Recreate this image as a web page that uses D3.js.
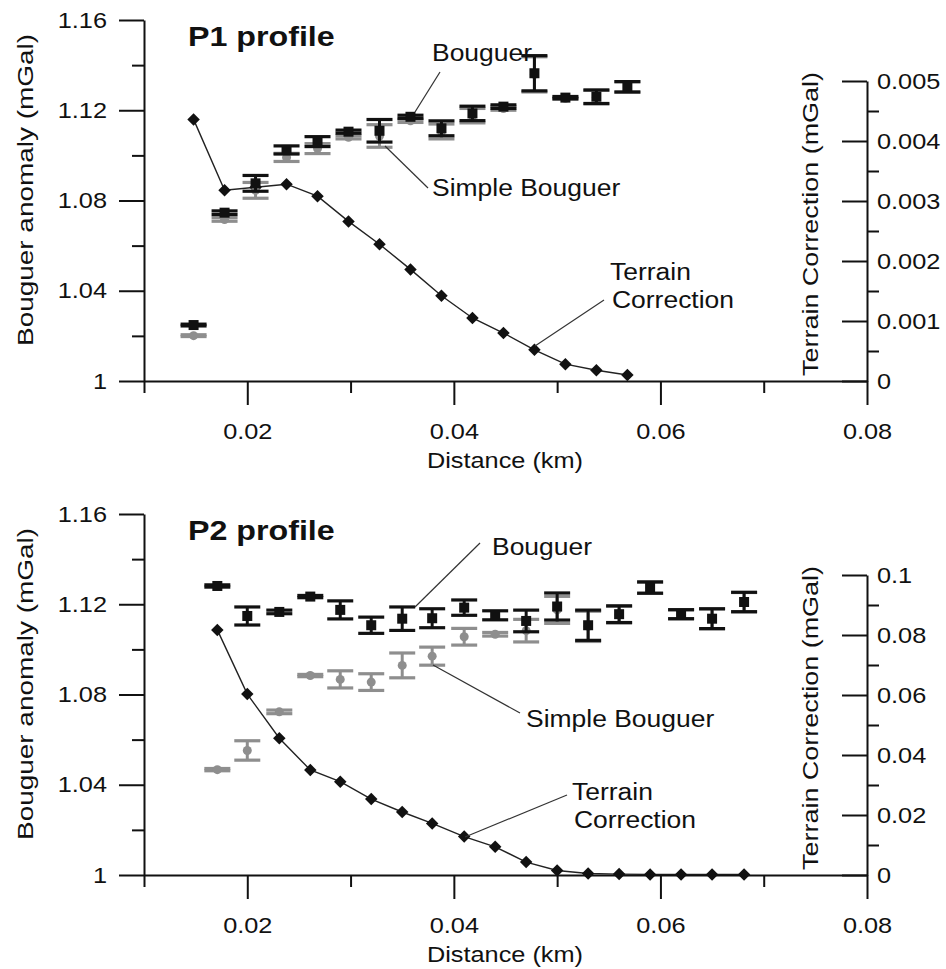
<!DOCTYPE html>
<html>
<head>
<meta charset="utf-8">
<script src="https://cdn.jsdelivr.net/npm/d3@7"></script>
<style>
body { margin: 0; background: #fff; }
svg { display: block; font-family: "Liberation Sans", Arial, sans-serif; }
</style>
</head>
<body>
<div id="chart"></div>
<script>
// DATA - P1 profile
var p1Dist = [0.0148, 0.0178, 0.0208, 0.0238, 0.0268, 0.0298, 0.0328, 0.0358, 0.0388, 0.0418, 0.0448, 0.0478, 0.0508, 0.0538, 0.0568];
var p1Bouguer = [1.0248, 1.0746, 1.0876, 1.1024, 1.1061, 1.1105, 1.1109, 1.1171, 1.1120, 1.1186, 1.1216, 1.1364, 1.1256, 1.1260, 1.1304];
var p1BouguerErr = [0.0004, 0.0008, 0.0035, 0.0018, 0.0022, 0.0007, 0.0050, 0.0007, 0.0033, 0.0032, 0.0008, 0.0078, 0.0005, 0.0030, 0.0023];
var p1Simple = [1.0201, 1.0716, 1.0845, 1.0991, 1.1030, 1.1080, 1.1086, 1.1153, 1.1106, 1.1176, 1.1208, 1.1359, 1.1253, 1.1258, 1.1303];
var p1SimpleErr = [0.0004, 0.0008, 0.0035, 0.0018, 0.0022, 0.0007, 0.0050, 0.0007, 0.0033, 0.0032, 0.0008, 0.0078, 0.0005, 0.0030, 0.0023];
var p1Terrain = [0.00436, 0.00318, 0.00323, 0.00328, 0.00308, 0.00266, 0.00228, 0.00186, 0.00142, 0.00105, 0.00080, 0.00052, 0.00028, 0.00018, 0.00010];

// DATA - P2 profile
var p2Dist = [0.0171, 0.0200, 0.0231, 0.0261, 0.0290, 0.0320, 0.0350, 0.0379, 0.0410, 0.0440, 0.0470, 0.0500, 0.0530, 0.0560, 0.0590, 0.0620, 0.0650, 0.0681];
var p2Bouguer = [1.1281, 1.1148, 1.1166, 1.1234, 1.1175, 1.1107, 1.1136, 1.1138, 1.1185, 1.1151, 1.1126, 1.1190, 1.1107, 1.1156, 1.1274, 1.1156, 1.1136, 1.1210];
var p2BouguerErr = [0.0005, 0.0040, 0.0008, 0.0005, 0.0040, 0.0036, 0.0052, 0.0042, 0.0034, 0.0020, 0.0048, 0.0060, 0.0067, 0.0037, 0.0025, 0.0020, 0.0044, 0.0043];
var p2Simple = [1.0467, 1.0552, 1.0723, 1.0884, 1.0867, 1.0855, 1.0929, 1.0970, 1.1056, 1.1067, 1.1083, 1.1175, 1.1102, 1.1154, 1.1273, 1.1155, 1.1135, 1.1209];
var p2SimpleErr = [0.0005, 0.0043, 0.0008, 0.0005, 0.0038, 0.0037, 0.0055, 0.0040, 0.0037, 0.0008, 0.0050, 0.0060, 0.0067, 0.0037, 0.0025, 0.0020, 0.0044, 0.0043];
var p2Terrain = [0.0817, 0.0603, 0.0456, 0.0350, 0.0311, 0.0253, 0.0210, 0.0172, 0.0128, 0.0094, 0.0043, 0.0015, 0.0005, 0.0003, 0.0002, 0.0002, 0.0002, 0.0002];

// TICKS
var xTicks = [0.02, 0.04, 0.06, 0.08];
var xMinorTicks = [0.01, 0.03, 0.05, 0.07];
var leftTicks = [1, 1.04, 1.08, 1.12, 1.16];
var leftMinorTicks = [1.02, 1.06, 1.10, 1.14];
var p1RightTicks = [0, 0.001, 0.002, 0.003, 0.004, 0.005];
var p1RightMinorTicks = [0.0005, 0.0015, 0.0025, 0.0035, 0.0045];
var p2RightTicks = [0, 0.02, 0.04, 0.06, 0.08, 0.1];
var p2RightMinorTicks = [0.01, 0.03, 0.05, 0.07, 0.09];

var INK = '#111',
    GREY = '#8e8e8e',
    STRETCH = 1.15;

var svg = d3.select('#chart')
    .append('svg')
    .attr('width', 946)
    .attr('height', 969);

// HELPERS
function rows(dist, vals, errs) {
    return dist.map((d, i) => ({ x: d, v: vals[i], e: errs ? errs[i] : 0 }));
}

function stretch(sel, k) {
    sel.each(function () {
        var w = this.getComputedTextLength();
        d3.select(this).attr('textLength', w * k).attr('lengthAdjust', 'spacingAndGlyphs');
    });
}

function styleAxis(a, showDomain) {
    a.selectAll('line').attr('stroke', INK).attr('stroke-width', 2);
    a.select('.domain').attr('stroke', INK).attr('stroke-width', 2);
    if (!showDomain) a.select('.domain').remove();
    a.selectAll('text')
        .attr('fill', INK)
        .style('font-size', '22px')
        .style('font-family', '"Liberation Sans", Arial, sans-serif');
}

function label(g, x, y, str, size, weight) {
    var t = g.append('text')
        .attr('x', x)
        .attr('y', y)
        .attr('fill', INK)
        .style('font-size', size + 'px')
        .style('font-weight', weight || 'normal')
        .text(str);
    stretch(t, STRETCH);
    return t;
}

function leader(g, x1, y1, x2, y2) {
    g.append('line')
        .attr('x1', x1).attr('y1', y1)
        .attr('x2', x2).attr('y2', y2)
        .attr('stroke', '#333')
        .attr('stroke-width', 1.2);
}

function errorBars(g, data, xs, ys, color, marker) {
    var bars = g.append('g').selectAll('g')
        .data(data)
        .enter()
        .append('g');

    bars.append('line')
        .attr('x1', d => xs(d.x)).attr('x2', d => xs(d.x))
        .attr('y1', d => ys(d.v - d.e)).attr('y2', d => ys(d.v + d.e))
        .attr('stroke', color).attr('stroke-width', 3);

    [-1, 1].forEach(s => {
        bars.append('line')
            .attr('x1', d => xs(d.x) - 13).attr('x2', d => xs(d.x) + 13)
            .attr('y1', d => ys(d.v + s * d.e)).attr('y2', d => ys(d.v + s * d.e))
            .attr('stroke', color).attr('stroke-width', 3.2);
    });

    if (marker === 'square') {
        bars.append('rect')
            .attr('x', d => xs(d.x) - 5).attr('y', d => ys(d.v) - 5)
            .attr('width', 10).attr('height', 10)
            .attr('fill', color);
    } else {
        bars.append('circle')
            .attr('cx', d => xs(d.x)).attr('cy', d => ys(d.v))
            .attr('r', 4.5)
            .attr('fill', color);
    }
}

function drawPanel(top, p) {
    var g = svg.append('g').attr('transform', 'translate(0,' + top + ')');

    var x = d3.scaleLinear().domain([0.01, 0.08]).range([144, 867]);
    var y = d3.scaleLinear().domain([1, 1.16]).range([381, 20]);
    var y2 = d3.scaleLinear().domain([0, p.rightTicks[p.rightTicks.length - 1]]).range([381, 81]);

    // terrain correction line (behind points)
    g.append('path')
        .datum(rows(p.dist, p.terrain))
        .attr('fill', 'none')
        .attr('stroke', '#222')
        .attr('stroke-width', 1.4)
        .attr('d', d3.line().x(d => x(d.x)).y(d => y2(d.v)));

    g.append('g').selectAll('path')
        .data(rows(p.dist, p.terrain))
        .enter()
        .append('path')
        .attr('d', d3.symbol(d3.symbolSquare, 78))
        .attr('transform', d => 'translate(' + x(d.x) + ',' + y2(d.v) + ') rotate(45)')
        .attr('fill', INK);

    // simple bouguer then bouguer on top
    errorBars(g, rows(p.dist, p.simple, p.simpleErr), x, y, GREY, 'circle');
    errorBars(g, rows(p.dist, p.bouguer, p.bouguerErr), x, y, INK, 'square');

    // axes
    g.append('g').attr('transform', 'translate(0,381)')
        .call(d3.axisBottom(x).tickValues(xMinorTicks).tickSize(12).tickFormat(''))
        .call(a => styleAxis(a, false));
    var xa = g.append('g').attr('transform', 'translate(0,381)')
        .call(d3.axisBottom(x).tickValues(xTicks).tickSizeInner(24).tickSizeOuter(0).tickPadding(18).tickFormat(d3.format('~g')))
        .call(a => styleAxis(a, true));

    g.append('g').attr('transform', 'translate(144,0)')
        .call(d3.axisLeft(y).tickValues(leftMinorTicks).tickSize(12).tickFormat(''))
        .call(a => styleAxis(a, false));
    var ya = g.append('g').attr('transform', 'translate(144,0)')
        .call(d3.axisLeft(y).tickValues(leftTicks).tickSizeInner(25).tickSizeOuter(0).tickPadding(12).tickFormat(d3.format('~g')))
        .call(a => styleAxis(a, true));

    g.append('g').attr('transform', 'translate(867,0)')
        .call(d3.axisRight(y2).tickValues(p.rightMinorTicks).tickSize(12).tickFormat(''))
        .call(a => styleAxis(a, false));
    var y2a = g.append('g').attr('transform', 'translate(867,0)')
        .call(d3.axisRight(y2).tickValues(p.rightTicks).tickSizeInner(-25).tickSizeOuter(0).tickPadding(10).tickFormat(d3.format('~g')))
        .call(a => styleAxis(a, true));

    stretch(xa.selectAll('text'), STRETCH);
    stretch(ya.selectAll('text'), STRETCH);
    stretch(y2a.selectAll('text'), STRETCH);

    // axis titles
    var xt = g.append('text')
        .attr('x', 505).attr('y', 468)
        .attr('text-anchor', 'middle')
        .attr('fill', INK)
        .style('font-size', '22px')
        .text('Distance (km)');
    stretch(xt, STRETCH);

    g.append('text')
        .attr('transform', 'translate(33,190) rotate(-90)')
        .attr('text-anchor', 'middle')
        .attr('fill', INK)
        .style('font-size', '22px')
        .attr('textLength', 312)
        .attr('lengthAdjust', 'spacingAndGlyphs')
        .text('Bouguer anomaly (mGal)');

    g.append('text')
        .attr('transform', 'translate(818,224) rotate(-90)')
        .attr('text-anchor', 'middle')
        .attr('fill', INK)
        .style('font-size', '22px')
        .attr('textLength', 304)
        .attr('lengthAdjust', 'spacingAndGlyphs')
        .text('Terrain Correction (mGal)');

    // annotations
    label(g, 188, 46, p.title, 28, 'bold');
    var a = p.notes;
    label(g, a.boug[0], a.boug[1], 'Bouguer', 23);
    leader(g, a.bougLine[0], a.bougLine[1], a.bougLine[2], a.bougLine[3]);
    label(g, a.simple[0], a.simple[1], 'Simple Bouguer', 23);
    leader(g, a.simpleLine[0], a.simpleLine[1], a.simpleLine[2], a.simpleLine[3]);
    label(g, a.terr[0], a.terr[1], 'Terrain', 23);
    label(g, a.terr[0] + 2, a.terr[1] + 28, 'Correction', 23);
    leader(g, a.terrLine[0], a.terrLine[1], a.terrLine[2], a.terrLine[3]);
}

drawPanel(0, {
    title: 'P1 profile',
    dist: p1Dist, bouguer: p1Bouguer, bouguerErr: p1BouguerErr,
    simple: p1Simple, simpleErr: p1SimpleErr, terrain: p1Terrain,
    rightTicks: p1RightTicks, rightMinorTicks: p1RightMinorTicks,
    notes: {
        boug: [432, 61], bougLine: [415, 112, 440, 72],
        simple: [432, 196], simpleLine: [385, 146, 428, 188],
        terr: [610, 280], terrLine: [535, 346, 604, 300]
    }
});

drawPanel(494, {
    title: 'P2 profile',
    dist: p2Dist, bouguer: p2Bouguer, bouguerErr: p2BouguerErr,
    simple: p2Simple, simpleErr: p2SimpleErr, terrain: p2Terrain,
    rightTicks: p2RightTicks, rightMinorTicks: p2RightMinorTicks,
    notes: {
        boug: [492, 61], bougLine: [415, 113, 480, 49],
        simple: [526, 233], simpleLine: [433, 171, 520, 219],
        terr: [572, 306], terrLine: [465, 343, 567, 301]
    }
});
</script>
</body>
</html>
